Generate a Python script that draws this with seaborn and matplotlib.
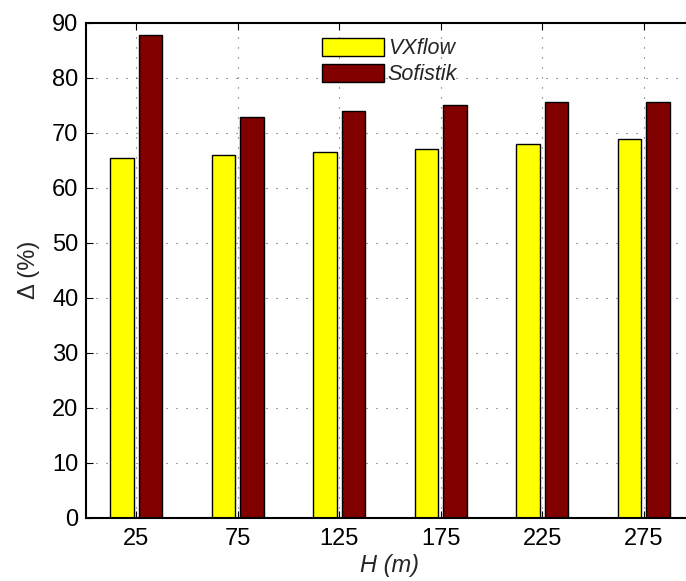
import matplotlib
matplotlib.use("Agg")
import matplotlib.pyplot as plt
import pandas as pd
import seaborn as sns

# Tower height categories (m) and relative differences (%) per software
heights = [25, 75, 125, 175, 225, 275]
vxflow = [65.4, 66.0, 66.5, 67.1, 68.0, 68.8]
sofistik = [87.7, 72.8, 73.9, 75.0, 75.5, 75.6]
series_names = ["VXflow", "Sofistik"]
series_colors = ["#ffff00", "#800000"]
y_ticks = [0, 10, 20, 30, 40, 50, 60, 70, 80, 90]

df = pd.DataFrame({
    "H": heights + heights,
    "delta": vxflow + sofistik,
    "method": [series_names[0]] * len(heights) + [series_names[1]] * len(heights),
})

sns.set_style("ticks")
plt.rcParams["font.family"] = ["Liberation Sans", "DejaVu Sans"]

W, H = 686, 581
fig = plt.figure(figsize=(W / 100, H / 100), dpi=100)
ax = fig.add_axes([85.5 / W, 63 / H, 609 / W, 495.5 / H])

sns.barplot(
    data=df, x="H", y="delta", hue="method", native_scale=True,
    palette=series_colors, saturation=1, width=0.57, gap=0.19,
    edgecolor="black", linewidth=1.0, errorbar=None, ax=ax,
)

ax.set_xlim(0, 300)
ax.set_ylim(0, 90)
ax.set_xticks(heights)
ax.set_xticklabels([str(h) for h in heights])
ax.set_yticks(y_ticks)

ax.grid(True, linestyle=(0, (1, 8)), color="0.35", linewidth=0.8)
ax.set_axisbelow(True)

for side in ["left", "bottom", "top"]:
    ax.spines[side].set_visible(True)
    ax.spines[side].set_linewidth(1.5)
    ax.spines[side].set_color("black")
ax.spines["right"].set_visible(False)

ax.tick_params(axis="both", direction="in", length=5, width=0.8,
               labelsize=17, top=True, right=False, colors="black")
ax.tick_params(axis="x", pad=7)
ax.tick_params(axis="y", pad=5)

ax.set_xlabel("H (m)", fontsize=17, fontstyle="italic", labelpad=3)
ax.set_ylabel("Δ (%)", fontsize=17, labelpad=9)

handles, labels = ax.get_legend_handles_labels()
ax.legend(handles, labels, loc="upper left",
          bbox_to_anchor=(322 / W, 1 - 38 / H), bbox_transform=fig.transFigure,
          frameon=False, borderpad=0, borderaxespad=0, handlelength=2.9,
          handleheight=0.9, handletextpad=0.15, labelspacing=0.2,
          prop={"style": "italic", "size": 15.5})

fig.savefig("out.png", dpi=100)
